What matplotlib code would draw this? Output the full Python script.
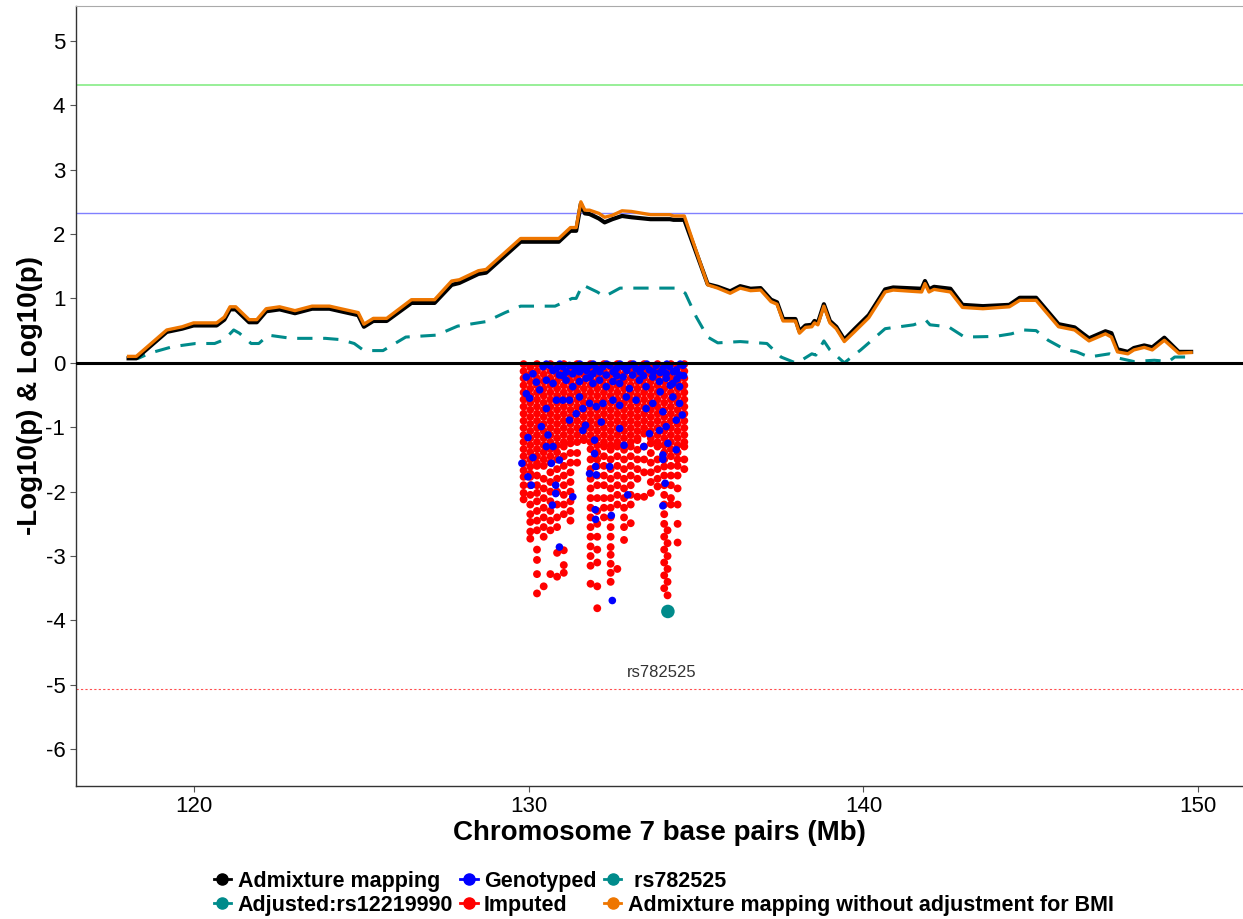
import matplotlib
matplotlib.use("Agg")
import matplotlib.pyplot as plt
from matplotlib.lines import Line2D

plt.rcParams['font.family'] = ['Liberation Sans', 'DejaVu Sans']
plt.rcParams['axes.unicode_minus'] = False

# ================= DATA =================

# admixture mapping curves (Mb, -log10 p)
admix_x = [118.05, 118.28, 119.19, 119.65, 119.99, 120.68, 120.91, 121.08, 121.25, 121.65,
           121.88, 122.16, 122.56, 123.02, 123.53, 124.05, 124.39, 124.91, 125.08, 125.36,
           125.76, 126.50, 127.19, 127.70, 127.93, 128.50, 128.73, 129.76, 130.90, 131.25,
           131.42, 131.56, 131.68, 131.82, 132.10, 132.27, 132.50, 132.79, 133.07, 133.64,
           134.22, 134.33, 134.65, 135.35, 135.65, 136.02, 136.32, 136.63, 136.93, 137.24,
           137.42, 137.60, 137.97, 138.09, 138.27, 138.46, 138.54, 138.64, 138.82, 139.00,
           139.19, 139.43, 139.73, 140.16, 140.65, 140.89, 141.74, 141.84, 141.96, 142.11,
           142.60, 142.96, 143.57, 144.36, 144.67, 145.16, 145.83, 146.31, 146.56, 146.74,
           147.23, 147.41, 147.59, 147.90, 148.08, 148.39, 148.63, 148.99, 149.42, 149.79]
nobmi_y = [0.10, 0.10, 0.51, 0.56, 0.62, 0.62, 0.71, 0.87, 0.87, 0.67,
           0.67, 0.84, 0.87, 0.81, 0.88, 0.88, 0.84, 0.78, 0.60, 0.69,
           0.69, 0.98, 0.98, 1.27, 1.29, 1.43, 1.45, 1.93, 1.93, 2.10,
           2.10, 2.50, 2.37, 2.37, 2.32, 2.26, 2.29, 2.36, 2.35, 2.30,
           2.30, 2.28, 2.28, 1.21, 1.16, 1.08, 1.16, 1.12, 1.13, 0.95,
           0.91, 0.65, 0.65, 0.46, 0.55, 0.56, 0.62, 0.59, 0.88, 0.62,
           0.53, 0.33, 0.48, 0.70, 1.10, 1.13, 1.10, 1.23, 1.10, 1.14,
           1.10, 0.86, 0.84, 0.87, 0.97, 0.97, 0.56, 0.51, 0.41, 0.34,
           0.45, 0.40, 0.17, 0.14, 0.20, 0.24, 0.20, 0.35, 0.15, 0.16]
admix_y = [0.07, 0.07, 0.48, 0.53, 0.58, 0.58, 0.67, 0.83, 0.83, 0.63,
           0.63, 0.80, 0.83, 0.77, 0.84, 0.84, 0.80, 0.74, 0.56, 0.65,
           0.65, 0.93, 0.93, 1.21, 1.24, 1.38, 1.40, 1.88, 1.88, 2.05,
           2.05, 2.47, 2.32, 2.31, 2.24, 2.18, 2.23, 2.28, 2.26, 2.23,
           2.23, 2.22, 2.22, 1.22, 1.18, 1.11, 1.19, 1.15, 1.16, 0.98,
           0.94, 0.68, 0.68, 0.49, 0.58, 0.59, 0.65, 0.62, 0.91, 0.65,
           0.56, 0.36, 0.52, 0.74, 1.14, 1.17, 1.15, 1.27, 1.14, 1.18,
           1.15, 0.90, 0.88, 0.90, 1.01, 1.01, 0.60, 0.55, 0.45, 0.38,
           0.49, 0.46, 0.21, 0.17, 0.23, 0.27, 0.24, 0.39, 0.17, 0.17]

# adjusted for rs12219990
adj_x = [118.11, 118.34, 118.68, 119.36, 120.05, 120.62, 120.91, 121.19, 121.36, 121.71,
         121.94, 122.22, 122.91, 123.93, 124.39, 124.79, 125.08, 125.65, 126.33, 127.25,
         127.88, 128.73, 129.30, 129.76, 130.79, 131.30, 131.42, 131.61, 132.05, 132.27,
         132.73, 134.45, 134.68, 135.01, 135.35, 135.65, 136.32, 137.12, 137.54, 137.97,
         138.09, 138.46, 138.58, 138.82, 139.00, 139.43, 139.92, 140.65, 141.50, 141.87,
         141.99, 142.54, 143.02, 143.94, 144.42, 144.79, 145.16, 145.52, 146.01, 146.37,
         146.74, 147.35, 147.65, 148.08, 148.69, 149.12, 149.30, 149.72]
adj_y = [0.07, 0.07, 0.15, 0.25, 0.30, 0.30, 0.36, 0.51, 0.46, 0.30,
         0.30, 0.43, 0.38, 0.38, 0.36, 0.30, 0.19, 0.19, 0.40, 0.43,
         0.57, 0.64, 0.78, 0.88, 0.88, 1.00, 1.00, 1.21, 1.10, 1.03,
         1.16, 1.16, 1.08, 0.71, 0.40, 0.31, 0.33, 0.30, 0.09, 0.00,
         0.02, 0.14, 0.12, 0.34, 0.20, 0.00, 0.20, 0.53, 0.59, 0.66,
         0.59, 0.56, 0.40, 0.41, 0.45, 0.51, 0.50, 0.35, 0.21, 0.17,
         0.09, 0.14, 0.07, 0.02, 0.04, 0.02, 0.09, 0.09]

# imputed SNPs (log10 p), one list per position column
imputed_x = [129.85, 130.05, 130.25, 130.45, 130.65, 130.85, 131.05, 131.25, 131.45,
             131.65, 131.85, 132.05, 132.25, 132.45, 132.65, 132.85, 133.05, 133.25,
             133.45, 133.65, 133.85, 134.05, 134.15, 134.25, 134.45, 134.65]
imputed_y = [
    [-0.02, -0.13, -0.24, -0.35, -0.46, -0.57, -0.68, -0.79, -0.9, -1.01, -1.12, -1.23, -1.34, -1.45, -1.56, -1.67, -1.77, -1.9, -2.02, -2.12],
    [-0.07, -0.18, -0.29, -0.4, -0.51, -0.62, -0.73, -0.84, -0.95, -1.06, -1.17, -1.28, -1.39, -1.5, -1.61, -1.72, -1.77, -1.9, -2.05, -2.2, -2.35, -2.47, -2.62, -2.73],
    [-0.02, -0.13, -0.24, -0.35, -0.46, -0.57, -0.68, -0.79, -0.9, -1.01, -1.12, -1.23, -1.34, -1.45, -1.56, -1.6, -1.75, -1.9, -2.02, -2.15, -2.3, -2.45, -2.6, -2.9, -3.06, -3.28, -3.58],
    [-0.07, -0.18, -0.29, -0.4, -0.51, -0.62, -0.73, -0.84, -0.95, -1.06, -1.17, -1.28, -1.39, -1.5, -1.6, -1.8, -1.95, -2.1, -2.25, -2.4, -2.55, -2.7, -3.47],
    [-0.02, -0.13, -0.24, -0.35, -0.46, -0.57, -0.68, -0.79, -0.9, -1.01, -1.12, -1.23, -1.34, -1.45, -1.55, -1.7, -1.85, -2.0, -2.15, -2.3, -2.45, -2.6, -3.28],
    [-0.07, -0.18, -0.29, -0.4, -0.51, -0.62, -0.73, -0.84, -0.95, -1.06, -1.17, -1.28, -1.39, -1.5, -1.65, -1.8, -2.0, -2.2, -2.4, -2.55, -2.95, -3.32],
    [-0.02, -0.13, -0.24, -0.35, -0.46, -0.57, -0.68, -0.79, -0.9, -1.01, -1.12, -1.23, -1.3, -1.45, -1.6, -1.75, -1.9, -2.05, -2.2, -2.35, -2.91, -3.14, -3.26],
    [-0.07, -0.18, -0.29, -0.4, -0.51, -0.62, -0.73, -0.84, -0.95, -1.06, -1.17, -1.25, -1.4, -1.55, -1.7, -1.85, -2.0, -2.15, -2.3, -2.45],
    [-0.02, -0.13, -0.24, -0.35, -0.46, -0.57, -0.68, -0.79, -0.9, -1.01, -1.12, -1.23, -1.4, -1.55],
    [-0.07, -0.18, -0.29, -0.4, -0.51, -0.62, -0.73, -0.84, -0.95, -1.06, -1.17, -1.2],
    [-0.02, -0.13, -0.24, -0.35, -0.46, -0.57, -0.68, -0.79, -0.9, -1.01, -1.12, -1.23, -1.34, -1.5, -1.65, -1.8, -1.95, -2.1, -2.25, -2.4, -2.55, -2.7, -2.85, -3.0, -3.15, -3.43],
    [-0.07, -0.18, -0.29, -0.4, -0.51, -0.62, -0.73, -0.84, -0.95, -1.06, -1.17, -1.28, -1.39, -1.5, -1.6, -1.75, -1.9, -2.1, -2.3, -2.5, -2.7, -2.9, -3.1, -3.47, -3.81],
    [-0.02, -0.13, -0.24, -0.35, -0.46, -0.57, -0.68, -0.79, -0.9, -1.01, -1.12, -1.23, -1.3, -1.45, -1.6, -1.75, -1.9, -2.1, -2.25, -2.4],
    [-0.07, -0.18, -0.29, -0.4, -0.51, -0.62, -0.73, -0.84, -0.95, -1.06, -1.17, -1.28, -1.35, -1.5, -1.65, -1.8, -1.95, -2.1, -2.25, -2.4, -2.55, -2.7, -2.86, -2.98, -3.12, -3.26, -3.4],
    [-0.02, -0.13, -0.24, -0.35, -0.46, -0.57, -0.68, -0.79, -0.9, -1.01, -1.12, -1.23, -1.3, -1.45, -1.6, -1.75, -1.9, -2.05, -2.2, -3.2],
    [-0.07, -0.18, -0.29, -0.4, -0.51, -0.62, -0.73, -0.84, -0.95, -1.06, -1.17, -1.28, -1.35, -1.5, -1.65, -1.8, -1.95, -2.1, -2.25, -2.4, -2.55, -2.75],
    [-0.02, -0.13, -0.24, -0.35, -0.46, -0.57, -0.68, -0.79, -0.9, -1.01, -1.12, -1.23, -1.3, -1.45, -1.6, -1.75, -1.9, -2.05, -2.2, -2.49],
    [-0.07, -0.18, -0.29, -0.4, -0.51, -0.62, -0.73, -0.84, -0.95, -1.06, -1.17, -1.2, -1.35, -1.5, -1.65, -1.8, -2.08],
    [-0.02, -0.13, -0.24, -0.35, -0.46, -0.57, -0.68, -0.79, -0.9, -1.01, -1.1, -1.3, -1.5, -1.7, -2.08],
    [-0.07, -0.18, -0.29, -0.4, -0.51, -0.62, -0.73, -0.84, -0.95, -1.06, -1.17, -1.25, -1.4, -1.55, -1.7, -1.85, -2.02],
    [-0.02, -0.13, -0.24, -0.35, -0.46, -0.57, -0.68, -0.79, -0.9, -1.01, -1.12, -1.23, -1.3, -1.5, -1.65, -1.8, -1.92],
    [-0.07, -0.18, -0.29, -0.4, -0.51, -0.62, -0.73, -0.84, -0.95, -1.06, -1.17, -1.28, -1.39, -1.5, -1.61, -1.75, -1.9, -2.05, -2.2, -2.35, -2.5, -2.7, -2.9, -3.1, -3.3, -3.5],
    [-2.6, -2.8, -3.0, -3.2, -3.4, -3.61],
    [-0.02, -0.13, -0.24, -0.35, -0.46, -0.57, -0.68, -0.79, -0.9, -1.01, -1.12, -1.23, -1.34, -1.45, -1.6, -1.75, -1.9, -2.1, -2.2],
    [-0.07, -0.18, -0.29, -0.4, -0.51, -0.62, -0.73, -0.84, -0.95, -1.06, -1.17, -1.28, -1.39, -1.5, -1.6, -1.75, -1.95, -2.2, -2.5, -2.79],
    [-0.02, -0.13, -0.24, -0.35, -0.46, -0.57, -0.68, -0.79, -0.9, -1.01, -1.12, -1.23, -1.3, -1.5, -1.65],
]

# genotyped SNPs (log10 p)
genotyped_x = [130.43, 130.63, 130.83, 131.02, 131.22, 131.42, 131.62, 131.82, 132.02, 132.22,
               132.42, 132.62, 132.82, 133.01, 133.21, 133.41, 133.61, 133.81, 134.01, 134.21,
               134.41, 134.61, 129.93, 130.13, 130.53, 130.73, 131.12, 131.32, 131.52, 131.72,
               131.92, 132.12, 132.32, 132.52, 132.72, 133.01, 133.31, 133.51, 133.91, 134.11,
               134.31, 134.51, 129.93, 130.33, 130.92, 131.52, 131.92, 132.32, 132.82, 133.71,
               134.51, 131.32, 133.11, 134.11, 130.03, 130.83, 131.02, 131.22, 131.52, 131.82,
               132.02, 132.22, 132.52, 132.72, 132.92, 133.21, 133.51, 133.71, 134.01, 134.31,
               134.51, 134.41, 134.59, 130.53, 131.42, 131.62, 129.98, 130.38, 130.58, 130.73,
               130.53, 130.92, 131.22, 131.62, 131.70, 131.97, 131.97, 132.17, 132.72, 132.85,
               133.44, 133.61, 133.91, 134.16, 134.41, 134.01, 134.11, 129.80, 129.98, 130.08,
               130.13, 130.68, 130.81, 130.81, 130.71, 131.32, 131.82, 132.00, 132.02, 132.42,
               131.99, 132.00, 132.47, 132.96, 134.01, 134.08, 134.01, 130.92, 132.50,
               130.53, 130.73, 130.93, 131.13, 131.33, 131.53, 131.73, 131.93, 132.13, 132.33,
               132.53, 132.73, 132.93, 133.13, 133.33, 133.53, 133.73, 133.93, 134.13, 134.33,
               134.53, 134.63, 134.43, 134.23, 133.93, 133.43, 132.63, 131.83, 131.03, 130.23]
genotyped_y = [-0.06, -0.04, -0.09, -0.06, -0.04, -0.09, -0.06, -0.04, -0.09, -0.06,
               -0.04, -0.09, -0.06, -0.04, -0.09, -0.06, -0.11, -0.04, -0.09, -0.06,
               -0.11, -0.04, -0.22, -0.17, -0.27, -0.32, -0.27, -0.37, -0.29, -0.24,
               -0.32, -0.27, -0.37, -0.29, -0.32, -0.40, -0.27, -0.37, -0.29, -0.24,
               -0.32, -0.37, -0.48, -0.42, -0.19, -0.14, -0.17, -0.19, -0.22, -0.22,
               -0.19, -0.17, -0.19, -0.17, -0.55, -0.58, -0.58, -0.58, -0.53, -0.63,
               -0.68, -0.63, -0.58, -0.66, -0.53, -0.58, -0.71, -0.63, -0.76, -0.53,
               -0.63, -0.89, -0.81, -0.71, -0.79, -0.71, -1.16, -0.99, -1.12, -1.30,
               -1.30, -1.51, -0.89, -1.05, -0.97, -1.20, -1.41, -0.92, -1.02, -1.28,
               -1.30, -1.10, -1.05, -1.25, -1.35, -1.43, -0.99, -1.56, -1.77, -1.90,
               -1.47, -1.56, -1.90, -2.03, -2.21, -2.08, -1.72, -1.61, -1.74, -1.61,
               -2.28, -2.43, -2.37, -2.05, -1.50, -1.87, -2.22, -2.86, -3.69,
               -0.02, -0.12, -0.02, -0.14, -0.05, -0.02, -0.12, -0.02, -0.14, -0.02,
               -0.14, -0.02, -0.12, -0.02, -0.14, -0.02, -0.14, -0.15, -0.02, -0.14,
               -0.02, -0.20, -0.25, -0.35, -0.45, -0.20, -0.20, -0.22, -0.20, -0.30]

# lead SNP
lead_x = [134.16]
lead_y = [-3.86]
lead_label = "rs782525"

# threshold lines
green_thr = 4.32
blue_thr = 2.32
red_thr = -5.07

TEAL = "#008B8B"
ORANGE = "#EE7600"

# ================= PLOT =================

fig = plt.figure(figsize=(12.43, 9.19), dpi=100)
ax = fig.add_axes([0.0609, 0.1447, 0.9391, 0.8488])

ax.axhline(green_thr, color="#90EE90", lw=1.3, zorder=1)
ax.axhline(blue_thr, color="#8080FF", lw=1.0, zorder=1)
ax.axhline(red_thr, color="#FF5050", lw=0.8, ls=(0, (2, 2)), zorder=1)

rx, ry = [], []
for x, ys in zip(imputed_x, imputed_y):
    for y in ys:
        rx.append(x)
        ry.append(y)
ax.scatter(rx, ry, s=32, color="#FF0000", edgecolors="none", zorder=2)
ax.scatter(genotyped_x, genotyped_y, s=30, color="#0000FF", edgecolors="none", zorder=3)
ax.scatter(lead_x, lead_y, s=95, color=TEAL, edgecolors="none", zorder=3)

ax.plot(adj_x, adj_y, color=TEAL, lw=2.2, ls=(0, (5, 3.5)), zorder=4)
ax.plot(admix_x, admix_y, color="black", lw=3.0, zorder=5)
ax.plot(admix_x, nobmi_y, color=ORANGE, lw=2.4, zorder=6)

ax.axhline(0, color="black", lw=2.2, zorder=7)

ax.text(lead_x[0] - 0.2, -4.81, lead_label, fontsize=12, color="#333333",
        ha="center", va="center")

ax.set_xlim(116.47, 151.34)
ax.set_ylim(-6.57, 5.54)
ax.set_xticks([120, 130, 140, 150])
ax.set_yticks(range(-6, 6))
ax.tick_params(labelsize=16, color="#555555", length=4, labelcolor="black")

for side in ["left", "bottom"]:
    ax.spines[side].set_color("#333333")
    ax.spines[side].set_linewidth(1.0)
ax.spines["top"].set_color("#AAAAAA")
ax.spines["right"].set_visible(False)

ax.set_xlabel("Chromosome 7 base pairs (Mb)", fontsize=20, fontweight="bold", labelpad=2)
ax.set_ylabel("-Log10(p) & Log10(p)", fontsize=20, fontweight="bold", labelpad=2)

handles = [
    Line2D([], [], color="black", marker="o", ms=8, lw=2),
    Line2D([], [], color=TEAL, marker="o", ms=8, lw=2),
    Line2D([], [], color="#0000FF", marker="o", ms=8, lw=2),
    Line2D([], [], color="#FF0000", marker="o", ms=8, lw=2),
    Line2D([], [], color=TEAL, marker="o", ms=8, lw=2),
    Line2D([], [], color=ORANGE, marker="o", ms=8, lw=2),
]
labels = ["Admixture mapping", "Adjusted:rs12219990", "Genotyped", "Imputed",
          " rs782525", "Admixture mapping without adjustment for BMI"]
fig.legend(handles, labels, ncol=3, loc="center", bbox_to_anchor=(0.534, 0.028),
           frameon=False, prop={"size": 15.5, "weight": "bold"}, handlelength=0.8,
           handletextpad=0.3, columnspacing=0.35, labelspacing=0.15)

fig.savefig("out.png", dpi=100)
